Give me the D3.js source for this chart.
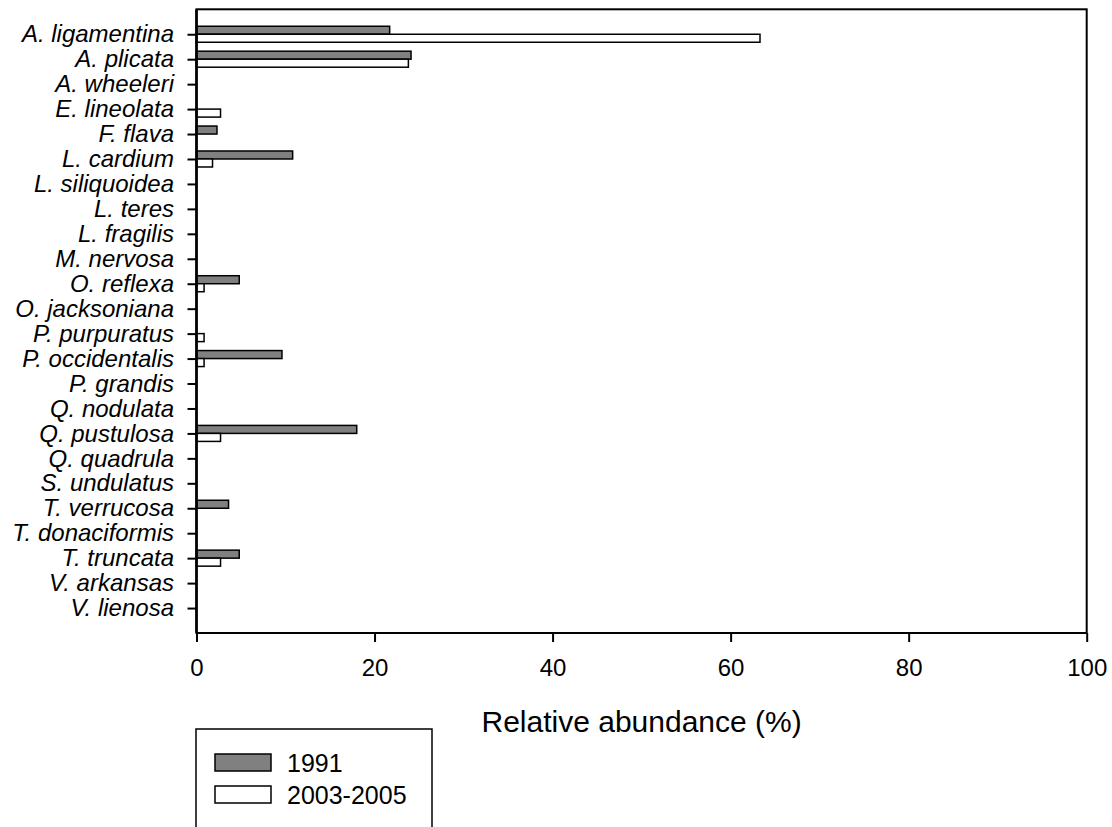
<!DOCTYPE html>
<html>
<head>
<meta charset="utf-8">
<script src="https://cdn.jsdelivr.net/npm/d3@7"></script>
<style>
  body { margin: 0; background: #fff; }
  svg { display: block; font-family: "Liberation Sans", Arial, sans-serif; }
</style>
</head>
<body>
<div id="chart"></div>
<script>
// species on the y axis, top to bottom
var species = ["A. ligamentina", "A. plicata", "A. wheeleri", "E. lineolata", "F. flava",
  "L. cardium", "L. siliquoidea", "L. teres", "L. fragilis", "M. nervosa", "O. reflexa",
  "O. jacksoniana", "P. purpuratus", "P. occidentalis", "P. grandis", "Q. nodulata",
  "Q. pustulosa", "Q. quadrula", "S. undulatus", "T. verrucosa", "T. donaciformis",
  "T. truncata", "V. arkansas", "V. lienosa"];

// relative abundance (%) per period
var abund1991 = [21.7, 24.1, 0, 0, 2.3, 10.8, 0, 0, 0, 0, 4.8, 0, 0, 9.6, 0, 0, 18.0, 0, 0, 3.6, 0, 4.8, 0, 0];
var abund2003 = [63.3, 23.8, 0, 2.7, 0, 1.8, 0, 0, 0, 0, 0.85, 0, 0.85, 0.85, 0, 0, 2.7, 0, 0, 0, 0, 2.7, 0, 0];

var seriesNames = ["1991", "2003-2005"];
var xTicks = [0, 20, 40, 60, 80, 100];

var width = 1112, height = 827;
var margin = {left: 196.5, right: 25.3, top: 9.3, bottom: 194};
var plotW = width - margin.left - margin.right,
    plotH = height - margin.top - margin.bottom;

var svg = d3.select("#chart").append("svg")
    .attr("width", width)
    .attr("height", height);

var g = svg.append("g")
    .attr("transform", "translate(" + margin.left + "," + margin.top + ")");

var x = d3.scaleLinear().domain([0, 100]).range([0, plotW]);

// one step of padding on each end, ticks sit between the two bars
var y = d3.scalePoint().domain(species).range([0, plotH]).padding(1);

var color = d3.scaleOrdinal().domain(seriesNames).range(["#808080", "#ffffff"]);

var barH = 8;

// flatten both series into bar records
var bars = [];
species.forEach(function(s, i) {
    bars.push({sp: s, key: seriesNames[0], value: abund1991[i], off: -barH});
    bars.push({sp: s, key: seriesNames[1], value: abund2003[i], off: 0});
});

g.selectAll("rect.bar")
    .data(bars.filter(function(d) { return d.value > 0; }))
    .enter().append("rect")
    .attr("class", "bar")
    .attr("x", x(0))
    .attr("y", function(d) { return y(d.sp) + d.off; })
    .attr("width", function(d) { return x(d.value) - x(0); })
    .attr("height", barH)
    .attr("fill", function(d) { return color(d.key); })
    .attr("stroke", "#000")
    .attr("stroke-width", 1.5);

// Y axis
var yAxis = g.append("g")
    .call(d3.axisLeft(y).tickSize(9).tickPadding(13.5));
yAxis.select(".domain").remove();
yAxis.selectAll(".tick line").attr("stroke", "#000").attr("stroke-width", 2);
yAxis.selectAll(".tick text")
    .attr("fill", "#000")
    .style("font-size", "24px")
    .style("font-style", "italic")
    .attr("dy", "0.32em");

// X axis
var xAxis = g.append("g")
    .attr("transform", "translate(0," + plotH + ")")
    .call(d3.axisBottom(x).tickValues(xTicks).tickSize(9).tickPadding(17));
xAxis.select(".domain").remove();
xAxis.selectAll(".tick line").attr("stroke", "#000").attr("stroke-width", 2);
xAxis.selectAll(".tick text")
    .attr("fill", "#000")
    .style("font-size", "24px");

// frame
g.append("rect")
    .attr("x", 0).attr("y", 0)
    .attr("width", plotW).attr("height", plotH)
    .attr("fill", "none")
    .attr("stroke", "#000")
    .attr("stroke-width", 2);
g.append("line")
    .attr("x1", 0).attr("x2", 0)
    .attr("y1", 0).attr("y2", plotH)
    .attr("stroke", "#000")
    .attr("stroke-width", 2.6);

// axis title
g.append("text")
    .attr("x", plotW / 2)
    .attr("y", plotH + 99)
    .attr("text-anchor", "middle")
    .style("font-size", "30px")
    .text("Relative abundance (%)");

// Legend
var legend = svg.append("g").attr("transform", "translate(196,729)");
legend.append("rect")
    .attr("x", 0).attr("y", 0)
    .attr("width", 236).attr("height", 140)
    .attr("fill", "none")
    .attr("stroke", "#000")
    .attr("stroke-width", 1.5);

var item = legend.selectAll("g.item")
    .data(seriesNames)
    .enter().append("g")
    .attr("class", "item")
    .attr("transform", function(d, i) { return "translate(19," + (25 + i * 32) + ")"; });

item.append("rect")
    .attr("width", 56).attr("height", 17)
    .attr("fill", color)
    .attr("stroke", "#000")
    .attr("stroke-width", 1.5);

item.append("text")
    .attr("x", 72)
    .attr("y", 17.5)
    .style("font-size", "25px")
    .text(function(d) { return d; });
</script>
</body>
</html>
